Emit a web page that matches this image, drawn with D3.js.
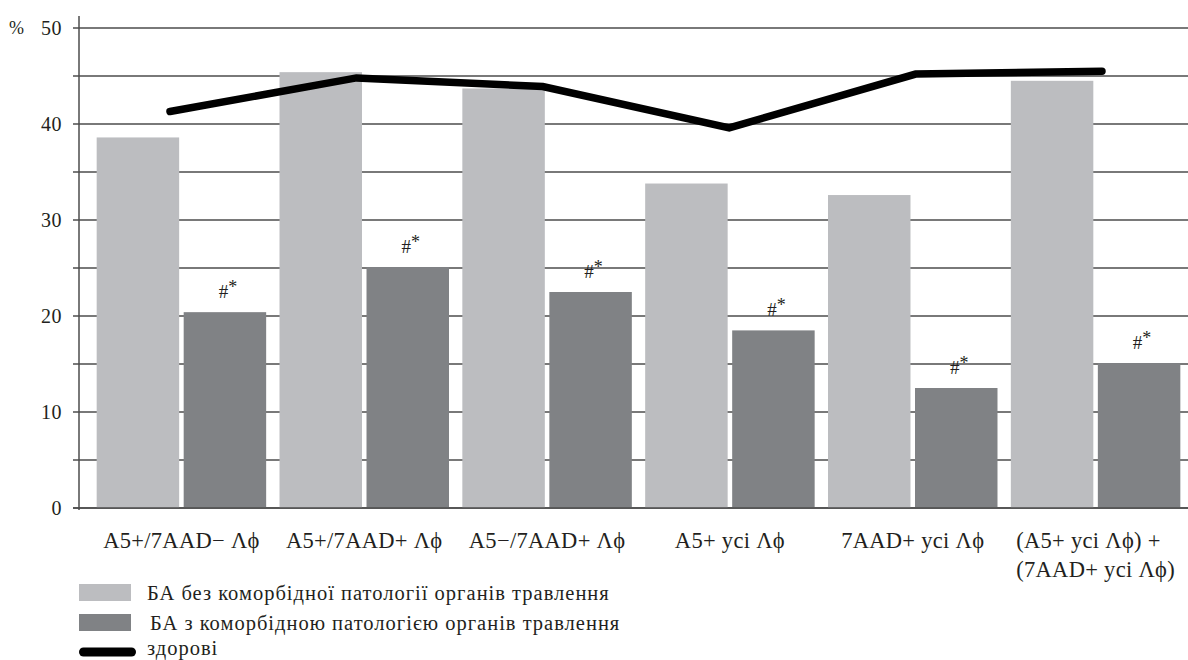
<!DOCTYPE html>
<html>
<head>
<meta charset="utf-8">
<script src="https://cdn.jsdelivr.net/npm/d3@7"></script>
<style>
  html, body { margin: 0; padding: 0; background: #fff; }
  svg { display: block; }
</style>
</head>
<body>
<svg id="chart" width="1188" height="660"></svg>
<script>
// ---- data ----
const categories = [
  ["A5+/7AAD\u2212 \u039B\u03D5"],
  ["A5+/7AAD+ \u039B\u03D5"],
  ["A5\u2212/7AAD+ \u039B\u03D5"],
  ["A5+ усі \u039B\u03D5"],
  ["7AAD+ усі \u039B\u03D5"],
  ["(A5+ усі \u039B\u03D5) +", "(7AAD+ усі \u039B\u03D5)"]
];
const seriesNoComorb = [38.6, 45.4, 43.7, 33.8, 32.6, 44.5];
const seriesComorb   = [20.4, 25.1, 22.5, 18.5, 12.5, 15.1];
const seriesHealthy  = [41.3, 44.8, 43.9, 39.6, 45.2, 45.5];
const annotations    = ["#*", "#*", "#*", "#*", "#*", "#*"];
const yTickLabels    = [0, 10, 20, 30, 40, 50];
const yGridValues    = [0, 5, 10, 15, 20, 25, 30, 35, 40, 45, 50];
const legendLabels   = [
  "БА без коморбідної патології органів травлення",
  "БА з коморбідною патологією органів травлення",
  "здорові"
];

const FONT = "Liberation Serif";
const colText  = "#231f20";
const colLight = "#bcbdc0";
const colDark  = "#808285";
const colLine  = "#000000";
const colGrid  = "#4d4d4d";

const keys = categories.map((c, i) => "c" + i);

const svg = d3.select("#chart");

const axisX = 79, gridRight = 1188;
const y = d3.scaleLinear().domain([0, 50]).range([508, 28]);

const x0 = d3.scaleBand().domain(keys).range([90, 1187])
  .paddingInner(0.073).paddingOuter(0.0365);
const x1 = d3.scaleBand().domain([0, 1]).range([0, x0.bandwidth()])
  .paddingInner(0.052).paddingOuter(0);
const xl = d3.scalePoint().domain(keys).range([170, 1102]);

// gridlines
svg.append("g").selectAll("line").data(yGridValues).join("line")
  .attr("x1", axisX - 6).attr("x2", gridRight)
  .attr("y1", d => y(d)).attr("y2", d => y(d))
  .attr("stroke", colGrid).attr("stroke-width", 1.3);

// bars
const groups = svg.append("g").selectAll("g").data(keys).join("g")
  .attr("transform", k => `translate(${x0(k)},0)`);

groups.append("rect")
  .attr("x", x1(0)).attr("width", x1.bandwidth())
  .attr("y", (k, i) => y(seriesNoComorb[i]))
  .attr("height", (k, i) => y(0) - y(seriesNoComorb[i]))
  .attr("fill", colLight);

groups.append("rect")
  .attr("x", x1(1)).attr("width", x1.bandwidth())
  .attr("y", (k, i) => y(seriesComorb[i]))
  .attr("height", (k, i) => y(0) - y(seriesComorb[i]))
  .attr("fill", colDark);

// annotations
groups.append("text")
  .attr("x", x1(1) + x1.bandwidth() / 2 + 3)
  .attr("y", (k, i) => y(seriesComorb[i]) - 14)
  .attr("text-anchor", "middle")
  .attr("font-family", FONT).attr("font-size", 19).attr("fill", colText)
  .each(function (k, i) {
    const t = d3.select(this);
    const a = annotations[i];
    t.append("tspan").text(a[0]);
    t.append("tspan").attr("dy", -5).attr("font-size", 18).text(a.slice(1));
  });

// baseline & y axis line
svg.append("line").attr("x1", axisX - 6).attr("x2", gridRight)
  .attr("y1", y(0)).attr("y2", y(0)).attr("stroke", colGrid).attr("stroke-width", 1.6);
svg.append("line").attr("x1", axisX).attr("x2", axisX)
  .attr("y1", 16).attr("y2", y(0) + 2).attr("stroke", colGrid).attr("stroke-width", 1.5);

// y tick labels
const yAxis = d3.axisLeft(y).tickValues(yTickLabels).tickSize(0).tickPadding(17);
const gy = svg.append("g").attr("transform", `translate(${axisX},0)`).call(yAxis);
gy.select(".domain").remove();
gy.attr("font-family", FONT).attr("font-size", 20);
gy.selectAll("text").attr("fill", colText).attr("letter-spacing", 0.5).attr("dy", "0.3em");

svg.append("text").attr("x", 9).attr("y", y(50) + 6)
  .attr("font-family", FONT).attr("font-size", 18).attr("fill", colText).text("%");

// healthy line
const line = d3.line().x((d, i) => xl(keys[i])).y(d => y(d));
svg.append("path").datum(seriesHealthy)
  .attr("d", line).attr("fill", "none")
  .attr("stroke", colLine).attr("stroke-width", 7.5)
  .attr("stroke-linecap", "round").attr("stroke-linejoin", "miter");

// x labels
categories.forEach((lines, i) => {
  const cx = x0(keys[i]) + x0.bandwidth() / 2;
  const t = svg.append("text").attr("y", 548)
    .attr("font-family", FONT).attr("font-size", 22.5).attr("letter-spacing", 0.3)
    .attr("fill", colText);
  lines.forEach((l, j) => {
    t.append("tspan").attr("x", cx).attr("dy", j === 0 ? 0 : 29).text(l);
  });
  if (lines.length > 1) {
    const w = d3.max(t.selectAll("tspan").nodes(), n => n.getComputedTextLength());
    t.selectAll("tspan").attr("x", cx - w / 2);
  } else {
    t.attr("text-anchor", "middle");
  }
});

// legend
const lg = svg.append("g").attr("font-family", FONT).attr("font-size", 20.5)
  .attr("letter-spacing", 1.0).attr("fill", colText);
lg.append("rect").attr("x", 79).attr("y", 584).attr("width", 52).attr("height", 17).attr("fill", colLight);
lg.append("rect").attr("x", 79).attr("y", 614).attr("width", 52).attr("height", 17).attr("fill", colDark);
lg.append("line").attr("x1", 83.5).attr("x2", 131.5).attr("y1", 652).attr("y2", 652)
  .attr("stroke", colLine).attr("stroke-width", 9).attr("stroke-linecap", "round");
lg.append("text").attr("x", 147).attr("y", 600).text(legendLabels[0]);
lg.append("text").attr("x", 150).attr("y", 630).text(legendLabels[1]);
lg.append("text").attr("x", 147).attr("y", 655).text(legendLabels[2]);
</script>
</body>
</html>
